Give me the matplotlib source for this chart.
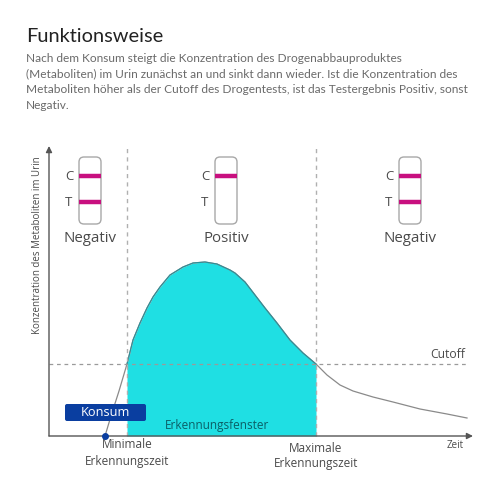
import matplotlib
matplotlib.use("Agg")
import matplotlib.pyplot as plt
from matplotlib.patches import FancyBboxPatch
import numpy as np

plt.rcParams['font.family'] = ['Open Sans', 'DejaVu Sans']

# curve (time, concentration), origin at the axis corner
zeit = np.array([56, 62, 70, 78, 84, 91, 98, 104, 111, 121, 134, 144, 156, 168, 181, 186, 196,
                 206, 216, 228, 241, 254, 267, 278, 291, 304, 324, 344, 371, 398, 418])
konz = np.array([0, 20, 45, 72, 96, 113, 128, 139, 149, 161, 169, 173, 174, 172, 166, 163, 154,
                 141, 128, 113, 96, 83, 72, 61, 51, 45, 39, 34, 27, 22, 18])
cutoff = 72
min_zeit = 78
max_zeit = 267
strip_mitte = [41, 177, 361]
strip_label = ["Negativ", "Positiv", "Negativ"]
strip_t_linie = [True, False, True]
body = ["Nach dem Konsum steigt die Konzentration des Drogenabbauproduktes",
        "(Metaboliten) im Urin zunächst an und sinkt dann wieder. Ist die Konzentration des",
        "Metaboliten höher als der Cutoff des Drogentests, ist das Testergebnis Positiv, sonst",
        "Negativ."]

fig = plt.figure(figsize=(5, 5), dpi=100)
ax = fig.add_axes([0, 0, 1, 1])
ax.set_xlim(-49, 451)
ax.set_ylim(-64, 436)
ax.axis("off")

text_c = "#4a4a4a"

# filled window
mask = (zeit >= min_zeit) & (zeit <= max_zeit)
ax.fill_between(zeit[mask], 0, konz[mask], color="#1fdfe3", lw=0, zorder=1)
ax.plot(zeit, konz, color="#8a8a8a", lw=0.9, zorder=2)
ax.plot(zeit[mask], konz[mask], color="#2c8f98", lw=0.8, zorder=2)

# dashed guides
ax.plot([0, 418], [cutoff, cutoff], color="#9a9a9a", lw=0.9, ls=(0, (3, 3)), zorder=3)
for x in [min_zeit, max_zeit]:
    ax.plot([x, x], [0, 288], color="#b0b0b0", lw=1, ls=(0, (3, 3)), zorder=3)

# axes
ax.annotate("", xy=(0, 290), xytext=(0, 0),
            arrowprops=dict(arrowstyle="-|>", color="#555555", lw=1, mutation_scale=9, shrinkA=0, shrinkB=0))
ax.annotate("", xy=(424, 0), xytext=(0, 0),
            arrowprops=dict(arrowstyle="-|>", color="#555555", lw=1, mutation_scale=9, shrinkA=0, shrinkB=0))

# test strips
for m, lab, t in zip(strip_mitte, strip_label, strip_t_linie):
    ax.add_patch(FancyBboxPatch((m - 11, 212), 22, 67, boxstyle="round,pad=0,rounding_size=5",
                                fc="white", ec="#a8a8a8", lw=1, zorder=4))
    ax.plot([m - 11, m + 11], [260, 260], color="#c8107f", lw=3.2, solid_capstyle="butt", zorder=5)
    if t:
        ax.plot([m - 11, m + 11], [234, 234], color="#c8107f", lw=3.2, solid_capstyle="butt", zorder=5)
    ax.text(m - 21, 259, "C", fontsize=9.5, color=text_c, ha="center", va="center")
    ax.text(m - 21, 234, "T", fontsize=9.5, color=text_c, ha="center", va="center")
    ax.text(m, 197, lab, fontsize=10.8, color=text_c, ha="center", va="center")

# Konsum box
ax.add_patch(FancyBboxPatch((16, 15), 81, 17, boxstyle="round,pad=0,rounding_size=2",
                            fc="#0a3ea0", ec="none", zorder=6))
ax.text(56.5, 23.5, "Konsum", fontsize=9.2, color="white", ha="center", va="center", zorder=7)
ax.plot([56], [0], "o", color="#0a3ea0", ms=4, zorder=7)

# labels
ax.text(168, 10, "Erkennungsfenster", fontsize=8.5, color="#0b5f66", ha="center", va="center", zorder=7)
ax.text(78, -9, "Minimale", fontsize=8.5, color=text_c, ha="center", va="center")
ax.text(78, -25, "Erkennungszeit", fontsize=8.5, color=text_c, ha="center", va="center")
ax.text(267, -12, "Maximale", fontsize=8.5, color=text_c, ha="center", va="center")
ax.text(267, -27, "Erkennungszeit", fontsize=8.5, color=text_c, ha="center", va="center")
ax.text(415, -9, "Zeit", fontsize=7, color=text_c, ha="right", va="center")
ax.text(416, 82, "Cutoff", fontsize=8.7, color=text_c, ha="right", va="center")
ax.text(-11, 191, "Konzentration des Metaboliten im Urin", fontsize=7, color=text_c,
        rotation=90, ha="center", va="center")

# header
fig.text(26 / 500, 1 - 37 / 500, "Funktionsweise", fontsize=14.4, color="#222222", va="center",
         family="Lato")
for i, zeile in enumerate(body):
    fig.text(26 / 500, 1 - (58.5 + i * 15.6) / 500, zeile, fontsize=8.6, color="#6a6a6a", va="center",
             family="Lato")

fig.savefig("out.png", dpi=100)
